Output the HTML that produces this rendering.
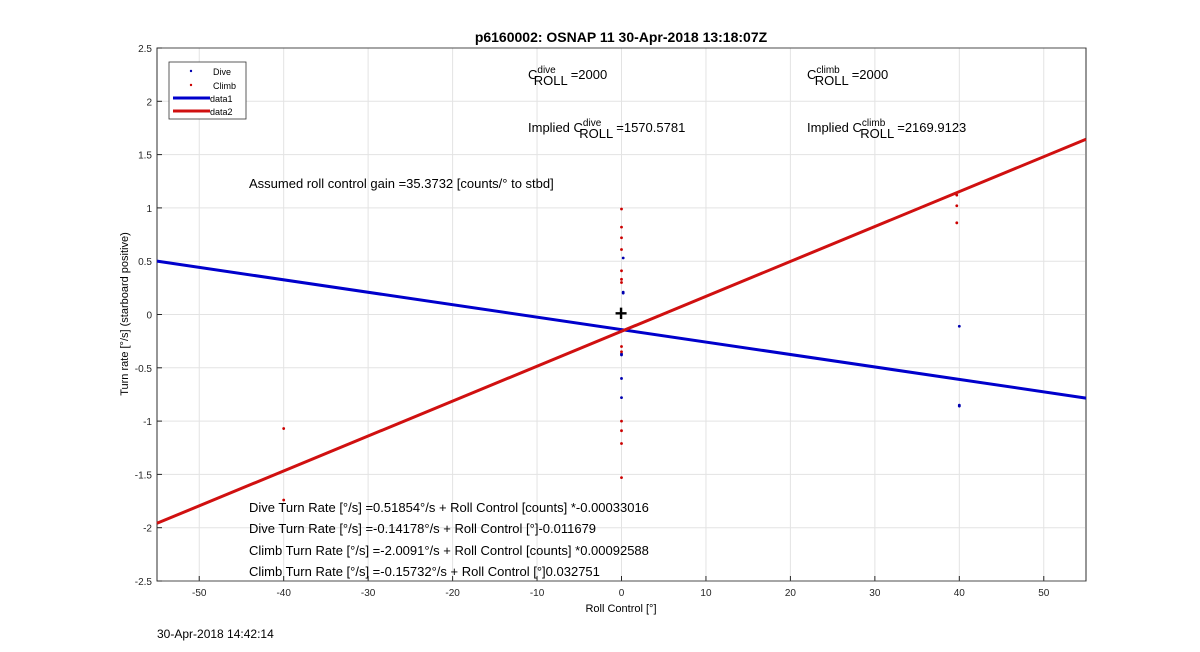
<!DOCTYPE html>
<html><head><meta charset="utf-8"><style>
body{margin:0;background:#fff;}
svg{display:block;font-family:"Liberation Sans",Arial,sans-serif;}
</style></head><body>
<svg id="c" width="1200" height="652">
<text x="621" y="42" text-anchor="middle" font-size="14" font-weight="bold">p6160002: OSNAP 11 30-Apr-2018 13:18:07Z</text>
<text x="621" y="612" text-anchor="middle" font-size="11">Roll Control [°]</text>
<text transform="translate(128,314) rotate(-90)" text-anchor="middle" font-size="11">Turn rate [°/s] (starboard positive)</text>
<text x="157" y="638" font-size="12">30-Apr-2018 14:42:14</text>
<g id="grid"></g><g id="marks"></g>
<g font-size="13">
<text x="528" y="79">C<tspan font-size="10" dy="-6">dive</tspan><tspan font-size="13" dx="-22" dy="12">ROLL</tspan><tspan dx="3" dy="-6">=2000</tspan></text>
<text x="807" y="79">C<tspan font-size="10" dy="-6">climb</tspan><tspan font-size="13" dx="-25" dy="12">ROLL</tspan><tspan dx="3" dy="-6">=2000</tspan></text>
<text x="528" y="132">Implied C<tspan font-size="10" dy="-6">dive</tspan><tspan font-size="13" dx="-22" dy="12">ROLL</tspan><tspan dx="3" dy="-6">=1570.5781</tspan></text>
<text x="807" y="132">Implied C<tspan font-size="10" dy="-6">climb</tspan><tspan font-size="13" dx="-25" dy="12">ROLL</tspan><tspan dx="3" dy="-6">=2169.9123</tspan></text>
<text x="249" y="188">Assumed roll control gain =35.3732 [counts/° to stbd]</text>
<text x="249" y="512">Dive Turn Rate [°/s] =0.51854°/s + Roll Control [counts] *-0.00033016</text>
<text x="249" y="533">Dive Turn Rate [°/s] =-0.14178°/s + Roll Control [°]-0.011679</text>
<text x="249" y="555">Climb Turn Rate [°/s] =-2.0091°/s + Roll Control [counts] *0.00092588</text>
<text x="249" y="576">Climb Turn Rate [°/s] =-0.15732°/s + Roll Control [°]0.032751</text>
</g>
<g>
<rect x="169" y="62" width="77" height="57" fill="#fff" stroke="#333" stroke-width="0.8"/>
<circle cx="191" cy="71" r="1.2" fill="#0000b0"/><text x="213" y="75" font-size="9">Dive</text>
<circle cx="191" cy="85" r="1.2" fill="#c00"/><text x="213" y="89" font-size="9">Climb</text>
<line x1="173" y1="98" x2="210" y2="98" stroke="#0000cc" stroke-width="3"/><text x="210" y="102" font-size="9">data1</text>
<line x1="173" y1="111" x2="210" y2="111" stroke="#d01010" stroke-width="3"/><text x="210" y="115" font-size="9">data2</text>
</g>
<text x="621" y="321" text-anchor="middle" font-size="22" font-weight="bold">+</text>
</svg>
<script>
const xTicks=[-50,-40,-30,-20,-10,0,10,20,30,40,50];
const yTicks=[-2.5,-2,-1.5,-1,-0.5,0,0.5,1,1.5,2,2.5];
const diveX=[0.2,0.2,0.2,0,0,0,0,40,40,40];
const diveY=[0.53,0.21,0.2,-0.37,-0.38,-0.6,-0.78,-0.11,-0.85,-0.86];
const climbX=[0,0,0,0,0,0,0,0,0,0,0,0,0,39.7,39.7,39.7,-40,-40];
const climbY=[0.99,0.82,0.72,0.61,0.41,0.33,0.30,-0.30,-0.35,-1.0,-1.09,-1.21,-1.53,1.12,1.02,0.86,-1.07,-1.74];
const diveFit=[-0.14178,-0.011679];
const climbFit=[-0.15732,0.032751];
const X0=157,X1=1086,Y0=48,Y1=581,xmin=-55,xmax=55,ymin=-2.5,ymax=2.5;
const sx=v=>X0+(v-xmin)/(xmax-xmin)*(X1-X0);
const sy=v=>Y1-(v-ymin)/(ymax-ymin)*(Y1-Y0);
const NS="http://www.w3.org/2000/svg";
function mk(p,t,a){const e=document.createElementNS(NS,t);for(const k in a)e.setAttribute(k,a[k]);p.appendChild(e);return e;}
const g=document.getElementById('grid'),m=document.getElementById('marks');
mk(g,'rect',{x:X0,y:Y0,width:X1-X0,height:Y1-Y0,fill:'#fff',stroke:'#262626','stroke-width':0.8});
xTicks.forEach(t=>{const x=sx(t);
 const l=mk(g,'line',{x1:x,x2:x,y1:Y0,y2:Y1,stroke:'#e3e3e3'});
 
 
 mk(g,'line',{x1:x,x2:x,y1:Y1,y2:Y1-5,stroke:'#262626'});
 const tx=mk(g,'text',{x:x,y:Y1+15,'text-anchor':'middle','font-size':10,fill:'#262626'});tx.textContent=t;
 
 
});
yTicks.forEach(t=>{const y=sy(t);
 const l=mk(g,'line',{x1:X0,x2:X1,y1:y,y2:y,stroke:'#e3e3e3'});
 
 
 mk(g,'line',{x1:X0,x2:X0+5,y1:y,y2:y,stroke:'#262626'});
 const tx=mk(g,'text',{x:X0-5,y:y+4,'text-anchor':'end','font-size':10,fill:'#262626'});tx.textContent=t;
 
 
});
mk(g,'rect',{x:X0,y:Y0,width:X1-X0,height:Y1-Y0,fill:'none',stroke:'#262626','stroke-width':0.8});
function fitLine(f,col,name){const l=mk(m,'line',{x1:sx(xmin),y1:sy(f[0]+f[1]*xmin),x2:sx(xmax),y2:sy(f[0]+f[1]*xmax),stroke:col,'stroke-width':3});
 
 }
fitLine(diveFit,'#0000cc','dive-fit-line');
fitLine(climbFit,'#d01010','climb-fit-line');
diveX.forEach((v,i)=>{const c=mk(m,'circle',{cx:sx(v),cy:sy(diveY[i]),r:1.4,fill:'#0000b0'});
 
 });
climbX.forEach((v,i)=>{const c=mk(m,'circle',{cx:sx(v),cy:sy(climbY[i]),r:1.4,fill:'#c00'});
 
 });
</script>
</body></html>
